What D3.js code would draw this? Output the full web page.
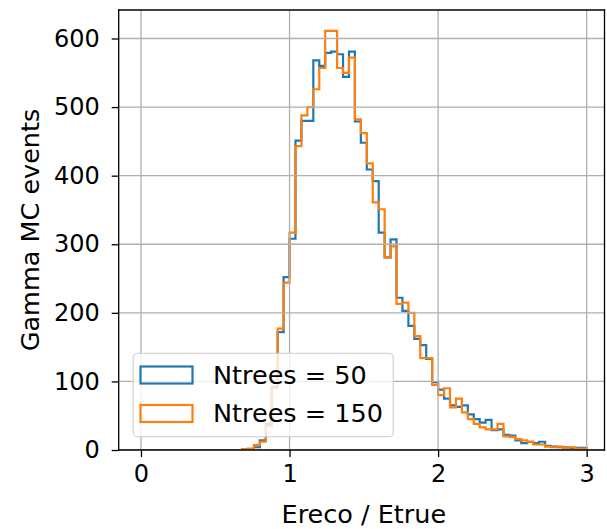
<!DOCTYPE html>
<html>
<head>
<meta charset="utf-8">
<script src="https://cdn.jsdelivr.net/npm/d3@7"></script>
<style>
  body { margin: 0; background: #fff; }
  text { font-family: "DejaVu Sans", sans-serif; fill: #000; }
</style>
</head>
<body>
<script>
// histogram binning: 75 bins of width 0.04 between 0 and 3
var binWidth = 0.04, nBins = 75;

// counts per bin
var ntrees50 = [
  0, 0, 0, 0, 0, 0, 0, 0, 0, 0, 0, 0, 0, 0, 0, 0,
  0, 1, 1, 4, 14, 38, 92, 172, 252, 308, 451, 480, 480, 568,
  560, 579, 581, 577, 544, 581, 479, 448, 409, 392,
  317, 281, 307, 222, 203, 181, 162, 153, 133, 99,
  88, 75, 65, 63, 65, 52, 45, 40, 44, 29,
  30, 22, 21, 14, 10, 12, 10, 12, 6, 5,
  4, 4, 3, 3, 3
];
var ntrees150 = [
  0, 0, 0, 0, 0, 0, 0, 0, 0, 0, 0, 0, 0, 0, 0, 0,
  0, 1, 2, 7, 12, 35, 90, 177, 244, 317, 443, 488, 500, 526,
  557, 611, 611, 557, 550, 572, 482, 462, 418, 361,
  351, 281, 297, 213, 215, 200, 166, 134, 134, 95,
  80, 90, 62, 75, 55, 45, 38, 33, 30, 30,
  38, 20, 19, 16, 14, 12, 8, 8, 5, 4,
  5, 3, 4, 2, 2
];
var seriesNames = ["Ntrees = 50", "Ntrees = 150"];
var seriesColors = ["#1f77b4", "#ff7f0e"];
var xTicks = [0, 1, 2, 3];
var yTicks = [0, 100, 200, 300, 400, 500, 600];

var width = 607, height = 529;
var margin = {top: 10, left: 118.7, bottom: 79},
    plotRight = 604.5;

var svg = d3.select("body").append("svg")
    .attr("width", width)
    .attr("height", height);

var yMax = d3.max(ntrees50.concat(ntrees150)) * 1.05;

var x = d3.scaleLinear()
    .domain([-0.15, 3.12])
    .range([margin.left, plotRight]);
var y = d3.scaleLinear()
    .domain([0, yMax])
    .range([height - margin.bottom, margin.top]);

var x0 = margin.left, x1 = plotRight, y0 = height - margin.bottom, y1 = margin.top;

svg.append("clipPath").attr("id", "plotclip")
  .append("rect")
    .attr("x", x0).attr("y", y1)
    .attr("width", x1 - x0).attr("height", y0 - y1);

// step outlines, like histtype='step'
function stepPoints(counts) {
  var pts = [[0, 0]];
  counts.forEach(function(c, i) {
    pts.push([i * binWidth, c]);
    pts.push([(i + 1) * binWidth, c]);
  });
  pts.push([counts.length * binWidth, 0]);
  return pts;
}

var line = d3.line()
    .x(function(d) { return x(d[0]); })
    .y(function(d) { return y(d[1]); });

var g = svg.append("g").attr("clip-path", "url(#plotclip)");

[ntrees50, ntrees150].forEach(function(counts, i) {
  g.append("path")
    .attr("d", line(stepPoints(counts)))
    .attr("fill", "none")
    .attr("stroke", seriesColors[i])
    .attr("stroke-width", 2.2)
    .attr("stroke-linejoin", "miter");
});

// grid
var grid = svg.append("g").attr("clip-path", "url(#plotclip)");
grid.selectAll(".gx").data(xTicks).enter().append("line")
    .attr("x1", function(d) { return x(d); })
    .attr("x2", function(d) { return x(d); })
    .attr("y1", y0).attr("y2", y1)
    .attr("stroke", "#b0b0b0").attr("stroke-width", 1.3);
grid.selectAll(".gy").data(yTicks).enter().append("line")
    .attr("y1", function(d) { return y(d); })
    .attr("y2", function(d) { return y(d); })
    .attr("x1", x0).attr("x2", x1)
    .attr("stroke", "#b0b0b0").attr("stroke-width", 1.3);

// axes
var xAxis = svg.append("g")
    .attr("transform", "translate(0," + y0 + ")")
    .call(d3.axisBottom(x).tickValues(xTicks).tickFormat(d3.format("d"))
      .tickSize(7).tickPadding(8));
var yAxis = svg.append("g")
    .attr("transform", "translate(" + x0 + ",0)")
    .call(d3.axisLeft(y).tickValues(yTicks).tickFormat(d3.format("d"))
      .tickSize(7).tickPadding(12));

[xAxis, yAxis].forEach(function(a) {
  a.select(".domain").remove();
  a.selectAll(".tick line").attr("stroke", "#000").attr("stroke-width", 1.3);
  a.selectAll(".tick text").style("font-size", "24px")
    .style("font-family", "DejaVu Sans").attr("fill", "#000");
});

// spines
[[x0, y0, x1, y0], [x0, y1, x1, y1], [x0, y0, x0, y1], [x1, y0, x1, y1]].forEach(function(s) {
  svg.append("line")
    .attr("x1", s[0]).attr("y1", s[1]).attr("x2", s[2]).attr("y2", s[3])
    .attr("stroke", "#000").attr("stroke-width", 1.3)
    .attr("stroke-linecap", "square");
});

// axis labels
svg.append("text")
    .attr("x", (x0 + x(3.15)) / 2)
    .attr("y", 523)
    .attr("text-anchor", "middle")
    .style("font-size", "25.5px")
    .text("Ereco / Etrue");

svg.append("text")
    .attr("transform", "translate(39," + (y0 + y1) / 2 + ") rotate(-90)")
    .attr("text-anchor", "middle")
    .style("font-size", "25.5px")
    .text("Gamma MC events");

// legend
var legend = svg.append("g");
legend.append("rect")
    .attr("x", 133.3).attr("y", 353.3)
    .attr("width", 260).attr("height", 83.4)
    .attr("rx", 4)
    .attr("fill", "#fff").attr("fill-opacity", 0.8)
    .attr("stroke", "#cccccc").attr("stroke-opacity", 0.8)
    .attr("stroke-width", 1.3);

seriesNames.forEach(function(name, i) {
  var top = 366.5 + i * 38.5;
  legend.append("rect")
      .attr("x", 140.5).attr("y", top)
      .attr("width", 52).attr("height", 17)
      .attr("fill", "none")
      .attr("stroke", seriesColors[i])
      .attr("stroke-width", 2.2);
  legend.append("text")
      .attr("x", 213)
      .attr("y", top + 17)
      .style("font-size", "25.5px")
      .text(name);
});
</script>
</body>
</html>
